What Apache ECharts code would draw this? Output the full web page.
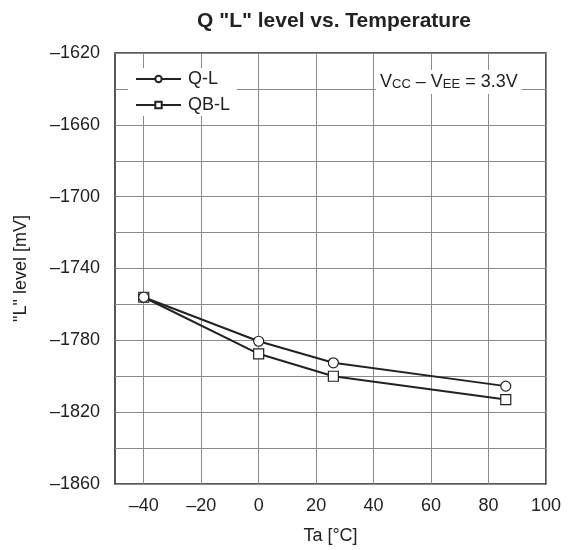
<!DOCTYPE html>
<html>
<head>
<meta charset="utf-8">
<script src="https://cdn.jsdelivr.net/npm/echarts@6/dist/echarts.min.js"></script>
<style>
  html, body { margin: 0; padding: 0; background: #fff; }
  #chart { width: 572px; height: 550px; }
</style>
</head>
<body>
<div id="chart"></div>
<script>
// data
var temps = [-40, 0, 26, 86];
var qL = [-1756, -1780.5, -1792.5, -1805.5];
var qbL = [-1756, -1787.5, -1800, -1813];
var seriesNames = ['Q-L', 'QB-L'];

var chart = echarts.init(document.getElementById('chart'), null, { renderer: 'canvas' });
var font = '"Liberation Sans", Arial, sans-serif';
var ink = '#222';

function dash(v) {
  return String(v).replace('-', '\u2013');
}

function pairs(xs, ys) {
  var out = [];
  for (var i = 0; i < xs.length; i++) out.push([xs[i], ys[i]]);
  return out;
}

chart.setOption({
  animation: false,
  textStyle: { fontFamily: font },
  title: {
    text: 'Q "L" level vs. Temperature',
    left: 329,
    textAlign: 'center',
    top: 6,
    textStyle: { fontSize: 21, fontWeight: 'bold', color: ink, fontFamily: font }
  },
  grid: {
    left: 115, right: 26, top: 53, bottom: 66,
    show: true,
    borderColor: ink,
    borderWidth: 1.5,
    backgroundColor: 'transparent'
  },
  legend: {
    data: seriesNames,
    orient: 'vertical',
    left: 128,
    top: 68,
    itemWidth: 45,
    itemHeight: 8,
    itemGap: 8,
    padding: [2, 7, 2, 7],
    backgroundColor: '#fff',
    textStyle: { fontSize: 18, color: ink, fontFamily: font, padding: [0, 0, 0, 2] }
  },
  graphic: [{
    type: 'text',
    left: 376,
    top: 70,
    z: 10,
    style: {
      text: '{v|V}{s|CC}{v| \u2013 V}{s|EE}{v| = 3.3V}',
      backgroundColor: '#fff',
      padding: [3, 4, 3, 4],
      rich: {
        v: { fontSize: 18, fill: ink, fontFamily: font },
        s: { fontSize: 13, fill: ink, fontFamily: font, padding: [4, 0, 0, 0] }
      }
    }
  }],
  xAxis: {
    type: 'value',
    min: -50,
    max: 100,
    interval: 10,
    name: 'Ta [°C]',
    nameLocation: 'middle',
    nameGap: 43,
    nameTextStyle: { fontSize: 18, color: ink, fontFamily: font },
    axisLine: { show: false },
    axisTick: { show: false },
    axisLabel: {
      fontSize: 18,
      color: ink,
      margin: 13,
      fontFamily: font,
      showMinLabel: false,
      formatter: function (v) { return v % 20 === 0 ? dash(v) : ''; }
    },
    splitLine: {
      show: true,
      lineStyle: { color: ['rgba(0,0,0,0)', '#8a8a8a'], width: 1 }
    }
  },
  yAxis: {
    type: 'value',
    min: -1860,
    max: -1620,
    interval: 20,
    name: '"L" level [mV]',
    nameLocation: 'middle',
    nameGap: 85,
    nameTextStyle: { fontSize: 18, color: ink, fontFamily: font },
    axisLine: { show: false },
    axisTick: { show: false },
    axisLabel: {
      fontSize: 18,
      color: ink,
      margin: 15,
      fontFamily: font,
      formatter: function (v) { return (v + 1860) % 40 === 0 ? dash(v) : ''; }
    },
    splitLine: { show: true, lineStyle: { color: '#8a8a8a', width: 1 } }
  },
  series: [
    {
      name: seriesNames[0],
      type: 'line',
      data: pairs(temps, qL),
      symbol: 'circle',
      symbolSize: 10,
      lineStyle: { color: ink, width: 2 },
      itemStyle: { color: '#fff', borderColor: ink, borderWidth: 1.2 },
      z: 3
    },
    {
      name: seriesNames[1],
      type: 'line',
      data: pairs(temps, qbL),
      symbol: 'rect',
      symbolSize: 10,
      lineStyle: { color: ink, width: 2 },
      itemStyle: { color: '#fff', borderColor: ink, borderWidth: 1.2 },
      z: 2
    }
  ]
});
</script>
</body>
</html>
